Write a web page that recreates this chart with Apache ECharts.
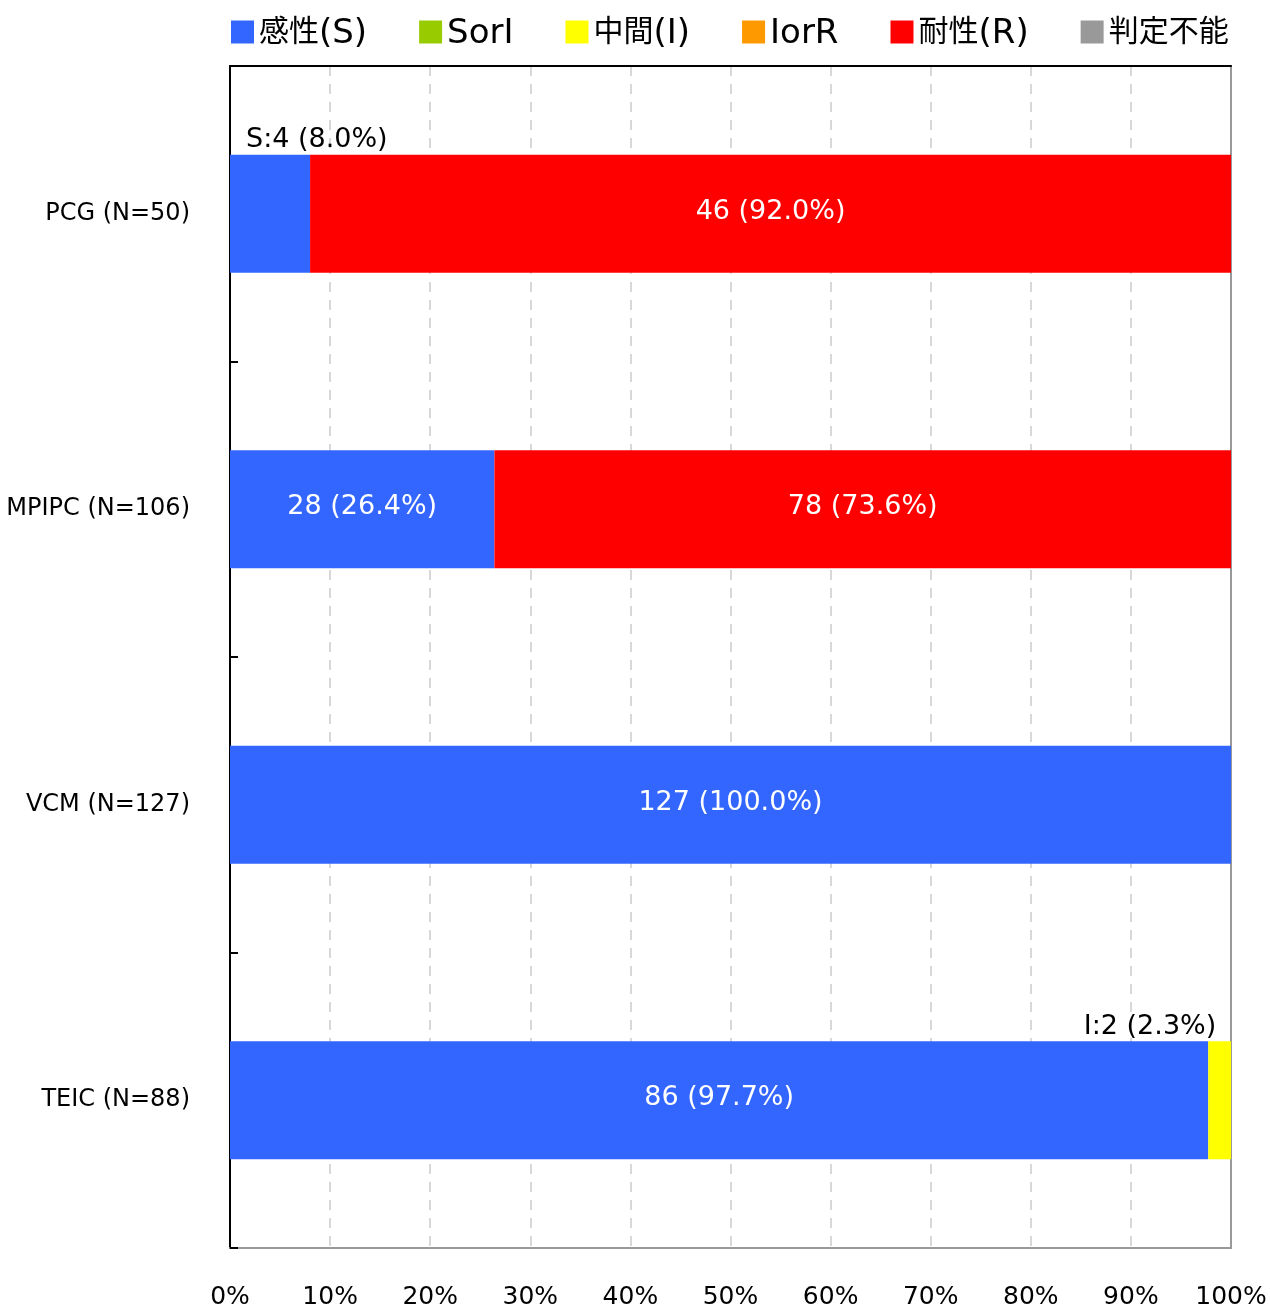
<!DOCTYPE html>
<html><head><meta charset="utf-8">
<script src="https://cdn.jsdelivr.net/npm/echarts@6/dist/echarts.min.js"></script>
<style>html,body{margin:0;padding:0;background:#fff}#c{width:1270px;height:1308px}</style>
</head><body><div id="c"></div>
<script>
const categories = ['PCG (N=50)', 'MPIPC (N=106)', 'VCM (N=127)', 'TEIC (N=88)'];
const totals = [50, 106, 127, 88];
const seriesNames = ['感性(S)', 'SorI', '中間(I)', 'IorR', '耐性(R)', '判定不能'];
const shortNames = ['S', 'SorI', 'I', 'IorR', 'R', '判定不能'];
const colors = ['#3366FF', '#99CC00', '#FFFF00', '#FF9900', '#FF0000', '#999999'];
const countS = [4, 28, 127, 86];
const countSorI = [0, 0, 0, 0];
const countI = [0, 0, 0, 2];
const countIorR = [0, 0, 0, 0];
const countR = [46, 78, 0, 0];
const countND = [0, 0, 0, 0];
const xTicks = [0, 10, 20, 30, 40, 50, 60, 70, 80, 90, 100];

const FONT = '"DejaVu Sans", "Noto Sans CJK JP", sans-serif';
const counts = [countS, countSorI, countI, countIorR, countR, countND];
// small segments whose label is drawn above the bar
const outsideLabels = { '0-0': 'left', '2-3': 'right' };

const series = counts.map((arr, si) => ({
  name: seriesNames[si],
  type: 'bar',
  stack: 'all',
  barWidth: 118,
  itemStyle: { color: colors[si] },
  data: arr.map((c, ci) => {
    const pct = c / totals[ci] * 100;
    const item = { value: pct, count: c };
    const key = si + '-' + ci;
    if (c === 0) {
      item.label = { show: false };
    } else if (outsideLabels[key]) {
      const al = outsideLabels[key];
      item.label = {
        show: true,
        position: al === 'left' ? [16, -1] : [8, -1],
        align: al,
        verticalAlign: 'bottom',
        color: '#000',
        formatter: shortNames[si] + ':' + c + ' (' + pct.toFixed(1) + '%)'
      };
    } else {
      item.label = {
        show: true,
        position: 'inside',
        color: '#fff',
        offset: [0, -2],
        formatter: c + ' (' + pct.toFixed(1) + '%)'
      };
    }
    return item;
  }),
  label: { fontFamily: FONT, fontSize: 27 }
}));

// legend text: CJK and Latin runs styled separately
function legendFmt(name) {
  return name.replace(/([\u3000-\u9fff]+)|([^\u3000-\u9fff]+)/g,
    (m, cjk, lat) => cjk ? '{c|' + cjk + '}' : '{l|' + lat + '}');
}

const chart = echarts.init(document.getElementById('c'));
chart.setOption({
  animation: false,
  textStyle: { fontFamily: FONT },
  color: colors,
  legend: {
    top: 10,
    left: 226,
    itemWidth: 23,
    itemHeight: 23,
    itemGap: 52,
    icon: 'rect',
    formatter: legendFmt,
    textStyle: {
      fontFamily: FONT, fontSize: 31, color: '#000',
      rich: {
        c: { fontFamily: '"Noto Sans CJK JP", sans-serif', fontSize: 30, color: '#000', lineHeight: 38, verticalAlign: 'bottom', padding: [0, 0, 6, 0] },
        l: { fontFamily: FONT, fontSize: 34, color: '#000', lineHeight: 38, verticalAlign: 'bottom' }
      }
    },
    data: seriesNames
  },
  grid: {
    left: 230, right: 39, top: 66, bottom: 60,
    containLabel: false, outerBoundsMode: 'none',
    show: true, borderColor: '#999', borderWidth: 2, backgroundColor: 'transparent'
  },
  xAxis: [{
    type: 'value', min: 0, max: 100, interval: 10,
    axisLine: { show: true, lineStyle: { color: '#999', width: 2 } },
    axisTick: { show: false },
    splitLine: { show: true, showMaxLine: false, showMinLine: false, lineStyle: { color: '#ccc', type: [10, 8], width: 1.5 } },
    axisLabel: {
      margin: 37, fontSize: 25, color: '#000', fontFamily: FONT,
      formatter: v => xTicks.includes(v) ? v + '%' : ''
    }
  }, {
    type: 'value', position: 'top', min: 0, max: 100, interval: 10,
    axisLine: { show: true, onZero: false, lineStyle: { color: '#000', width: 2 } },
    axisTick: { show: false }, axisLabel: { show: false }, splitLine: { show: false }
  }],
  yAxis: {
    type: 'category', inverse: true, data: categories,
    axisLine: { show: true, lineStyle: { color: '#000', width: 2 } },
    axisTick: { show: true, inside: true, length: 8, lineStyle: { color: '#000', width: 2 } },
    axisLabel: { fontSize: 24, color: '#000', margin: 40, fontFamily: FONT }
  },
  series: series
});
</script></body></html>
